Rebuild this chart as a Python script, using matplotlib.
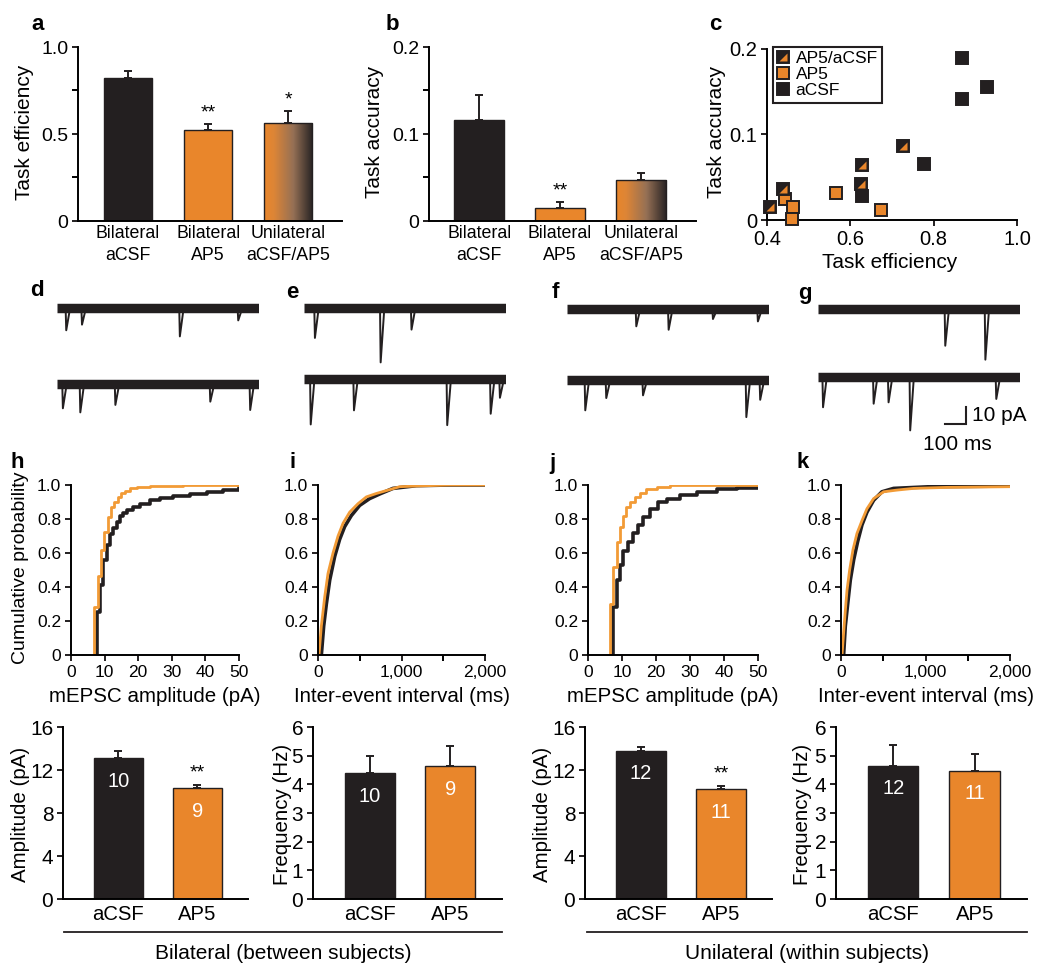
import numpy as np
import matplotlib
matplotlib.use("Agg")
from matplotlib import pyplot as plt
from matplotlib.lines import Line2D
from matplotlib.colors import LinearSegmentedColormap
from matplotlib.legend_handler import HandlerTuple

plt.rcParams['font.family'] = ['Liberation Sans', 'DejaVu Sans']
plt.rcParams['axes.linewidth'] = 1.4
plt.rcParams['xtick.major.width'] = 1.4
plt.rcParams['ytick.major.width'] = 1.4
plt.rcParams['xtick.minor.width'] = 1.4
plt.rcParams['ytick.minor.width'] = 1.4

W, H = 1050, 972
BLACK = '#231F20'
ORANGE = '#E9862B'
ORANGE_LINE = '#F29B36'

# ---------------- data ----------------
# a, b: behaviour
ab_groups = ['Bilateral\naCSF', 'Bilateral\nAP5', 'Unilateral\naCSF/AP5']
efficiency = [0.82, 0.525, 0.565]
efficiency_err = [0.04, 0.035, 0.07]
efficiency_stars = ['', '**', '*']
accuracy = [0.116, 0.0155, 0.047]
accuracy_err = [0.029, 0.0065, 0.008]
accuracy_stars = ['', '**', '']

# c: efficiency vs accuracy per animal
c_acsf_eff = [0.867, 0.929, 0.869, 0.777, 0.629]
c_acsf_acc = [0.190, 0.155, 0.1415, 0.066, 0.028]
c_ap5_eff = [0.443, 0.463, 0.459, 0.566, 0.674]
c_ap5_acc = [0.024, 0.0156, 0.001, 0.032, 0.0117]
c_mix_eff = [0.407, 0.439, 0.629, 0.626, 0.726]
c_mix_acc = [0.0156, 0.036, 0.064, 0.042, 0.086]

# d-g: example sweeps, visible mEPSCs as (time ms, depth pA)
sweep_ms = 960
d1_t = [41, 116, 582, 860]
d1_amp = [13.1, 9.8, 16.7, 7.3]
d2_t = [25, 108, 275, 727, 917]
d2_amp = [14.3, 16.7, 12.3, 10.4, 15.3]
e1_t = [49, 362, 509]
e1_amp = [17.6, 32.0, 12.7]
e2_t = [29, 235, 679, 886, 930]
e2_amp = [26.5, 18.2, 26.9, 20.2, 10.8]
f1_t = [327, 481, 692, 906]
f1_amp = [10.2, 12.2, 5.9, 7.3]
f2_t = [84, 184, 359, 851, 917]
f2_amp = [17.6, 10.4, 8.8, 21.6, 11.4]
g1_t = [603, 794]
g1_amp = [21.6, 29.8]
g2_t = [21, 262, 333, 436, 846]
g2_amp = [17.8, 15.7, 14.9, 31.4, 12.9]

# h-k: cumulative distributions
h_acsf_x = [7.6, 8.6, 9.6, 10.6, 11.6, 12.6, 13.6, 14.6, 15.6, 16.6, 18.5, 20.5,
            23.5, 26.5, 30.5, 35.4, 40.4, 45.3, 50]
h_acsf_p = [0.255, 0.41, 0.56, 0.65, 0.71, 0.75, 0.785, 0.815, 0.835, 0.85, 0.87,
            0.89, 0.91, 0.925, 0.937, 0.947, 0.959, 0.97, 0.984]
h_ap5_x = [6.9, 7.9, 8.9, 9.9, 10.9, 11.9, 12.9, 13.9, 14.9, 16.1, 17.6, 19.5, 23.5, 33.4, 50]
h_ap5_p = [0.28, 0.465, 0.62, 0.725, 0.81, 0.87, 0.90, 0.93, 0.95, 0.967, 0.98, 0.99,
           0.996, 1.0, 1.0]
i_acsf_x = [40, 68, 100, 140, 200, 259, 319, 399, 499, 618, 738, 898, 1177, 1576, 2000]
i_acsf_p = [0, 0.17, 0.30, 0.44, 0.58, 0.68, 0.755, 0.82, 0.88, 0.92, 0.947, 0.98,
            0.996, 1.0, 1.0]
i_ap5_x = [12, 40, 80, 120, 180, 240, 300, 379, 479, 579, 698, 818, 978, 1177, 1576, 2000]
i_ap5_p = [0, 0.17, 0.34, 0.48, 0.60, 0.70, 0.775, 0.84, 0.89, 0.93, 0.95, 0.967,
           0.99, 0.994, 1.0, 1.0]
j_acsf_x = [7.4, 8.4, 9.3, 10.3, 11.8, 13.3, 14.8, 16.2, 18.2, 20.7, 23.1, 27.1,
            32, 37.9, 43.8, 50]
j_acsf_p = [0.285, 0.44, 0.53, 0.61, 0.667, 0.715, 0.765, 0.81, 0.86, 0.90, 0.92,
            0.94, 0.96, 0.975, 0.98, 0.99]
j_ap5_x = [6.4, 7.4, 8.4, 9.3, 10.3, 11.3, 12.3, 13.8, 15.3, 17.2, 20.2, 24.1, 50]
j_ap5_p = [0.30, 0.52, 0.667, 0.755, 0.82, 0.87, 0.90, 0.93, 0.95, 0.975, 0.99, 1.0, 1.0]
k_acsf_x = [31, 51, 79, 110, 150, 197, 248, 307, 386, 484, 622, 1055, 2000]
k_acsf_p = [0, 0.17, 0.30, 0.44, 0.56, 0.667, 0.765, 0.84, 0.91, 0.96, 0.98, 0.99, 0.994]
k_ap5_x = [12, 31, 51, 71, 102, 142, 189, 248, 307, 386, 504, 661, 858, 1252, 2000]
k_ap5_p = [0, 0.13, 0.26, 0.38, 0.50, 0.62, 0.715, 0.79, 0.86, 0.92, 0.96, 0.97,
           0.98, 0.986, 0.99]

# bottom row: mEPSC summary
drug_groups = ['aCSF', 'AP5']
amp_bil = [13.1, 10.3]
amp_bil_err = [0.65, 0.35]
freq_bil = [4.38, 4.63]
freq_bil_err = [0.6, 0.7]
amp_uni = [13.77, 10.2]
amp_uni_err = [0.37, 0.3]
freq_uni = [4.64, 4.47]
freq_uni_err = [0.72, 0.58]
n_bil = [10, 9]
n_uni = [12, 11]

fig = plt.figure(figsize=(W / 100, H / 100), dpi=100)


def add_ax(l, t, r, b):
    return fig.add_axes([l / W, 1 - b / H, (r - l) / W, (b - t) / H])


def clean(ax):
    ax.spines['top'].set_visible(False)
    ax.spines['right'].set_visible(False)
    ax.tick_params(direction='out', length=4.5, width=1.4, color=BLACK, pad=2.5)
    ax.tick_params(which='minor', direction='out', length=4.5, width=1.4)


def ylabel_at(ax, text, x, y, size):
    ax.set_ylabel(text, fontsize=size)
    ax.yaxis.label.set_va('center')
    ax.yaxis.set_label_coords(x / W, 1 - y / H, transform=fig.transFigure)


def xlabel_at(ax, text, x, y, size):
    ax.set_xlabel(text, fontsize=size)
    ax.xaxis.label.set_va('center')
    ax.xaxis.set_label_coords(x / W, 1 - y / H, transform=fig.transFigure)


def letter(ch, x, y):
    fig.text(x / W, 1 - y / H, ch, fontsize=16, fontweight='bold', ha='center', va='center')


grad_cmap = LinearSegmentedColormap.from_list(
    'grad', [(0, ORANGE), (0.2, '#DD8536'), (0.6, '#957055'), (1, '#262223')])


def bars(ax, vals, errs, colors, gradient_last=False, width=0.62):
    x = np.arange(len(vals))
    b = ax.bar(x, vals, width=width, color=colors, edgecolor=BLACK, linewidth=1.0, zorder=2)
    ax.errorbar(x, vals, yerr=[np.zeros(len(vals)), errs], fmt='none', ecolor=BLACK,
                elinewidth=1.4, capsize=3, capthick=1.4, zorder=3)
    if gradient_last:
        xi = x[-1]
        img = ax.imshow(np.linspace(0, 1, 200).reshape(1, -1), cmap=grad_cmap, aspect='auto',
                        extent=(xi - width / 2, xi + width / 2, 0, vals[-1]), zorder=1.5)
        img.set_clip_path(b[-1])
    return x


# ---------------- a ----------------
ax = add_ax(78, 47, 342, 221)
clean(ax)
x = bars(ax, efficiency, efficiency_err, [BLACK, ORANGE, 'none'], gradient_last=True, width=0.6)
for xi, v, e, s in zip(x, efficiency, efficiency_err, efficiency_stars):
    if s:
        ax.annotate(s, (xi, v + e), xytext=(0, 1.5), textcoords='offset points',
                    ha='center', va='bottom', fontsize=14)
ax.set_xlim(-0.625, 2.67)
ax.set_ylim(0, 1.0)
ax.set_yticks([0, 0.5, 1.0])
ax.set_yticklabels(['0', '0.5', '1.0'], fontsize=14)
ax.set_yticks([0.25, 0.75], minor=True)
ax.set_xticks(x)
ax.set_xticklabels(ab_groups, fontsize=12.8, linespacing=1.35)
ax.tick_params(axis='x', length=0, pad=3)
ylabel_at(ax, 'Task efficiency', 25, 132, 15)
letter('a', 38, 25)

# ---------------- b ----------------
ax = add_ax(429, 47, 696, 221)
clean(ax)
x = bars(ax, accuracy, accuracy_err, [BLACK, ORANGE, 'none'], gradient_last=True, width=0.62)
for xi, v, e, s in zip(x, accuracy, accuracy_err, accuracy_stars):
    if s:
        ax.annotate(s, (xi, v + e), xytext=(0, 1.5), textcoords='offset points',
                    ha='center', va='bottom', fontsize=14)
ax.set_xlim(-0.62, 2.68)
ax.set_ylim(0, 0.2)
ax.set_yticks([0, 0.1, 0.2])
ax.set_yticklabels(['0', '0.1', '0.2'], fontsize=14)
ax.set_yticks([0.05, 0.15], minor=True)
ax.set_xticks(x)
ax.set_xticklabels(ab_groups, fontsize=12.8, linespacing=1.35)
ax.tick_params(axis='x', length=0, pad=3)
ylabel_at(ax, 'Task accuracy', 375, 132, 15)
letter('b', 392, 25)

# ---------------- c ----------------
ax = add_ax(767, 49, 1017, 220)
clean(ax)
tri = [(-1, -1), (1, -1), (1, 1)]
h_acsf, = ax.plot(c_acsf_eff, c_acsf_acc, ls='none', marker='s', ms=8.5, mfc=BLACK,
                  mec=BLACK, mew=1.4, clip_on=False, zorder=3)
h_ap5, = ax.plot(c_ap5_eff, c_ap5_acc, ls='none', marker='s', ms=8.5, mfc=ORANGE,
                 mec=BLACK, mew=1.4, clip_on=False, zorder=3)
h_mix_bg, = ax.plot(c_mix_eff, c_mix_acc, ls='none', marker='s', ms=8.5, mfc=BLACK,
                    mec=BLACK, mew=1.4, clip_on=False, zorder=3)
h_mix_tri, = ax.plot(c_mix_eff, c_mix_acc, ls='none', marker=tri, ms=6.2, mfc=ORANGE,
                     mec='none', clip_on=False, zorder=4)
ax.set_xlim(0.4, 1.0)
ax.set_ylim(0, 0.2)
ax.set_xticks([0.4, 0.6, 0.8, 1.0])
ax.set_xticklabels(['0.4', '0.6', '0.8', '1.0'], fontsize=14.5)
ax.set_yticks([0, 0.1, 0.2])
ax.set_yticklabels(['0', '0.1', '0.2'], fontsize=14.5)
xlabel_at(ax, 'Task efficiency', 890, 263, 15)
ylabel_at(ax, 'Task accuracy', 716, 132, 15)
leg = ax.legend([(h_mix_bg, h_mix_tri), h_ap5, h_acsf], ['AP5/aCSF', 'AP5', 'aCSF'],
                handler_map={tuple: HandlerTuple(ndivide=1)}, loc='upper left',
                bbox_to_anchor=(0.024, 1.012), fontsize=12.5, frameon=True, fancybox=False,
                edgecolor=BLACK, framealpha=1, borderpad=0.25, labelspacing=0.05,
                handlelength=0.7, handletextpad=0.35, borderaxespad=0)
leg.get_frame().set_linewidth(1.5)
letter('c', 715, 25)


# ---------------- d-g traces ----------------
def sweep(ax, t, amp, base):
    ax.plot([0, sweep_ms], [base, base], color=BLACK, lw=6.8, solid_capstyle='butt')
    for ti, ai in zip(t, amp):
        ax.plot([ti, ti + 3, ti + 20], [base, base - ai, base - 1], color=BLACK, lw=1.4)


trace_panels = [
    ('d', 57, 308, -44.7, d1_t, d1_amp, d2_t, d2_amp, (37, 290)),
    ('e', 304, 308, -42.0, e1_t, e1_amp, e2_t, e2_amp, (292, 292)),
    ('f', 567, 309, -42.0, f1_t, f1_amp, f2_t, f2_amp, (555, 292)),
    ('g', 818, 309, -40.0, g1_t, g1_amp, g2_t, g2_amp, (805, 293)),
]
for name, left, base_px, off, t1, a1, t2, a2, lpos in trace_panels:
    ax = add_ax(left, base_px - 20, left + sweep_ms * 0.21, base_px + 150)
    ax.axis('off')
    sweep(ax, t1, a1, 0)
    sweep(ax, t2, a2, off)
    ax.set_xlim(0, sweep_ms)
    ax.set_ylim(-150 / 1.7, 20 / 1.7)
    letter(name, *lpos)
    if name == 'g':
        # scale bar 100 ms / 10 pA
        ax.plot([603, 703, 703], [-67.6, -67.6, -57.6], color=BLACK, lw=1.5,
                clip_on=False, solid_joinstyle='miter')
        ax.text(733, -62.6, '10 pA', fontsize=15, ha='left', va='center')
        ax.text(664, -79.5, '100 ms', fontsize=15, ha='center', va='center')


# ---------------- h-k cumulative ----------------
def cdf_panel(box, ax_x, ax_p, ap_x, ap_p, steps, xmax, xlabel):
    ax = add_ax(*box)
    clean(ax)
    if steps:
        ax.step([ax_x[0]] + ax_x, [0] + ax_p, where='post', color=BLACK, lw=2.6)
        ax.step([ap_x[0]] + ap_x, [0] + ap_p, where='post', color=ORANGE_LINE, lw=2.0)
    else:
        ax.plot(ax_x, ax_p, color=BLACK, lw=2.6)
        ax.plot(ap_x, ap_p, color=ORANGE_LINE, lw=2.0)
    ax.set_xlim(0, xmax)
    ax.set_ylim(0, 1.0)
    ax.set_yticks([0, 0.2, 0.4, 0.6, 0.8, 1.0])
    ax.set_yticklabels(['0', '0.2', '0.4', '0.6', '0.8', '1.0'], fontsize=12.5)
    if xmax == 50:
        ax.set_xticks([0, 10, 20, 30, 40, 50])
        ax.set_xticklabels(['0', '10', '20', '30', '40', '50'], fontsize=12.5)
    else:
        ax.set_xticks([0, 1000, 2000])
        ax.set_xticklabels(['0', '1,000', '2,000'], fontsize=12.5)
        ax.set_xticks([500, 1500], minor=True)
    mid = (box[0] + box[2]) / 2
    xlabel_at(ax, xlabel, mid, 696, 14.8)
    return ax


ax = cdf_panel((71, 485, 239, 655), h_acsf_x, h_acsf_p, h_ap5_x, h_ap5_p, True, 50,
               'mEPSC amplitude (pA)')
ylabel_at(ax, 'Cumulative probability', 21, 568, 14)
letter('h', 17, 463)
cdf_panel((318, 485, 485, 655), i_acsf_x, i_acsf_p, i_ap5_x, i_ap5_p, False, 2000,
          'Inter-event interval (ms)')
letter('i', 293, 463)
cdf_panel((588, 485, 758, 655), j_acsf_x, j_acsf_p, j_ap5_x, j_ap5_p, True, 50,
          'mEPSC amplitude (pA)')
letter('j', 552, 463)
cdf_panel((841, 485, 1010, 655), k_acsf_x, k_acsf_p, k_ap5_x, k_ap5_p, False, 2000,
          'Inter-event interval (ms)')
letter('k', 803, 463)


# ---------------- bottom summary bars ----------------
def summary_panel(box, vals, errs, n, ymax, yticks, ylabel, label_x, star):
    ax = add_ax(*box)
    clean(ax)
    x = bars(ax, vals, errs, [BLACK, ORANGE], width=0.62)
    for xi, v, ni in zip(x, vals, n):
        ax.annotate(str(ni), (xi, v), xytext=(0, -16.5), textcoords='offset points',
                    ha='center', va='center', fontsize=14.5, color='white')
    if star:
        ax.annotate('**', (x[1], vals[1] + errs[1]), xytext=(0, 2.5), textcoords='offset points',
                    ha='center', va='bottom', fontsize=14)
    ax.set_xlim(-0.7, 1.64)
    ax.set_ylim(0, ymax)
    ax.set_yticks(yticks)
    ax.set_yticklabels([str(t) for t in yticks], fontsize=15)
    ax.set_xticks(x)
    ax.set_xticklabels(drug_groups, fontsize=14.6)
    ax.tick_params(axis='x', length=0, pad=4)
    ylabel_at(ax, ylabel, label_x, 814, 14.8)
    return ax


summary_panel((63, 727, 248, 899), amp_bil, amp_bil_err, n_bil, 16, [0, 4, 8, 12, 16],
              'Amplitude (pA)', 20, True)
summary_panel((313, 727, 502, 899), freq_bil, freq_bil_err, n_bil, 6, [0, 1, 2, 3, 4, 5, 6],
              'Frequency (Hz)', 282, False)
summary_panel((585, 727, 772, 899), amp_uni, amp_uni_err, n_uni, 16, [0, 4, 8, 12, 16],
              'Amplitude (pA)', 543, True)
summary_panel((836, 727, 1027, 899), freq_uni, freq_uni_err, n_uni, 6, [0, 1, 2, 3, 4, 5, 6],
              'Frequency (Hz)', 803, False)

for x0, x1, txt in [(64, 502, 'Bilateral (between subjects)'),
                    (587, 1027, 'Unilateral (within subjects)')]:
    fig.add_artist(Line2D([x0 / W, x1 / W], [1 - 931.7 / H] * 2, color=BLACK, lw=1.3,
                          transform=fig.transFigure))
    fig.text((x0 + x1) / 2 / W, 1 - 953 / H, txt, fontsize=15, ha='center', va='center')

fig.savefig('out.png', dpi=100)
